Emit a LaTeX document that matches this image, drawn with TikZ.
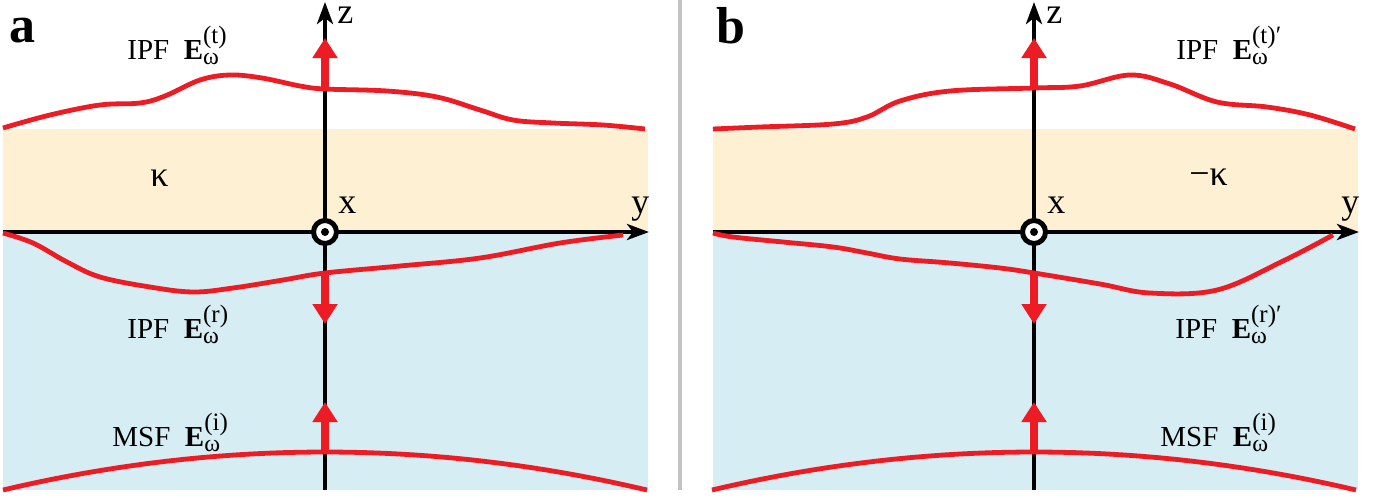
\documentclass[tikz,border=0pt]{standalone}
\usepackage{fontspec}
\setmainfont{Liberation Serif}
\usepackage{amsmath}
\usetikzlibrary{arrows.meta}
\definecolor{layeryellow}{RGB}{253,240,211}
\definecolor{layerblue}{RGB}{213,237,243}
\definecolor{fieldred}{RGB}{237,28,36}
\newcommand{\fieldlab}[3]{#1~~\textbf{E}$^{\text{\fontsize{12.5}{13}\selectfont(#2)#3}}_{\text{\fontsize{12}{13}\selectfont ω}}$}

\begin{document}
\begin{tikzpicture}[x=0.5pt, y=-0.5pt,
  axis/.style={line width=2pt, -{Stealth[length=11pt, width=8pt, inset=3pt]}},
  wave/.style={draw=fieldred, line width=2.4pt},
  fieldarrow/.style={draw=fieldred, line width=4pt, -{Triangle[length=10pt, width=12pt, fill=fieldred]}},
  lab/.style={font=\fontsize{14.5}{17}\selectfont, inner sep=0pt, anchor=base west},
  axlab/.style={font=\fontsize{18}{21}\selectfont, inner sep=0pt, anchor=base west},
  panlab/.style={font=\fontsize{26}{30}\selectfont\bfseries, inner sep=0pt, anchor=base west},
  odot/.style={circle, draw, line width=2.5pt, fill=white, minimum size=11.5pt, inner sep=0pt}
]
  \useasboundingbox (0,0) rectangle (1387,498);

  \fill[layeryellow] (3,129) rectangle (648,232);
  \fill[layerblue] (3,232) rectangle (648,490);
  \fill[layeryellow] (713,129) rectangle (1358,232);
  \fill[layerblue] (713,232) rectangle (1358,490);
  \draw[black!24, line width=2pt] (680,0) -- (680,490);

  % panel a
  \coordinate (za0) at (325,490);
  \coordinate (za1) at (325,2);
  \coordinate (ya0) at (3,232);
  \coordinate (ya1) at (649,232);
  \draw[axis] (za0) -- (za1);
  \draw[axis] (ya0) -- (ya1);

  \draw[wave] plot[smooth, tension=0.6] coordinates {(3,128) (50,115) (100,105) (140,103) (165,96) (200,80) (230,75) (262,78) (300,86) (325,89) (387,91) (437,97) (480,110) (513,120) (553,123) (603,125) (645,129)};
  \draw[wave] plot[smooth, tension=0.6] coordinates {(3,233) (33,243) (67,262) (100,277) (150,287) (193,292) (233,288) (283,280) (325,273) (400,266) (480,258) (560,243) (623,235)};
  \draw[wave] plot[domain=-322:322, samples=40] ({325+\x},{452+38*(\x/322)^2});

  \coordinate (ta0) at (325,89);
  \coordinate (ta1) at (325,38);
  \coordinate (ra0) at (325,273);
  \coordinate (ra1) at (325,324);
  \coordinate (ia0) at (325,452);
  \coordinate (ia1) at (325,402);
  \draw[fieldarrow] (ta0) -- (ta1);
  \draw[fieldarrow] (ra0) -- (ra1);
  \draw[fieldarrow] (ia0) -- (ia1);
  \node[odot] (xa) at (325,232) {};
  \fill (xa) circle[radius=2pt];

  \node[panlab] (pa) at (9,42) {a};
  \node[axlab] (zla) at (337,24) {z};
  \node[axlab] (xla) at (338,213) {x};
  \node[axlab] (yla) at (631,213) {y};
  \node[axlab] (ka) at (150,186) {κ};
  \node[lab] (tla) at (127,59) {\fieldlab{IPF}{t}{}};
  \node[lab] (rla) at (127,338) {\fieldlab{IPF}{r}{}};
  \node[lab] (ila) at (112,446) {\fieldlab{MSF}{i}{}};

  % panel b
  \coordinate (zb0) at (1034,490);
  \coordinate (zb1) at (1034,2);
  \coordinate (yb0) at (713,232);
  \coordinate (yb1) at (1359,232);
  \draw[axis] (zb0) -- (zb1);
  \draw[axis] (yb0) -- (yb1);

  \draw[wave] plot[smooth, tension=0.6] coordinates {(713,129) (760,127) (833,124) (867,117) (900,101) (950,91) (1034,88) (1080,86) (1130,75) (1170,84) (1217,102) (1267,107) (1310,115) (1355,129)};
  \draw[wave] plot[smooth, tension=0.6] coordinates {(713,233) (733,237) (783,242) (833,247) (867,253) (900,259) (950,263) (1000,268) (1034,273) (1100,284) (1150,293) (1217,290) (1283,261) (1333,235)};
  \draw[wave] plot[domain=-322:322, samples=40] ({1034+\x},{452+38*(\x/322)^2});

  \coordinate (tb0) at (1034,88);
  \coordinate (tb1) at (1034,38);
  \coordinate (rb0) at (1034,273);
  \coordinate (rb1) at (1034,324);
  \coordinate (ib0) at (1034,452);
  \coordinate (ib1) at (1034,402);
  \draw[fieldarrow] (tb0) -- (tb1);
  \draw[fieldarrow] (rb0) -- (rb1);
  \draw[fieldarrow] (ib0) -- (ib1);
  \node[odot] (xb) at (1034,232) {};
  \fill (xb) circle[radius=2pt];

  \node[panlab] (pb) at (716,43) {b};
  \node[axlab] (zlb) at (1046,24) {z};
  \node[axlab] (xlb) at (1047,213) {x};
  \node[axlab] (ylb) at (1341,213) {y};
  \node[axlab] (kb) at (1189,185) {−κ};
  \node[lab] (tlb) at (1176,59) {\fieldlab{IPF}{t}{′}};
  \node[lab] (rlb) at (1175,338) {\fieldlab{IPF}{r}{′}};
  \node[lab] (ilb) at (1160,446) {\fieldlab{MSF}{i}{}};
\end{tikzpicture}
\end{document}
